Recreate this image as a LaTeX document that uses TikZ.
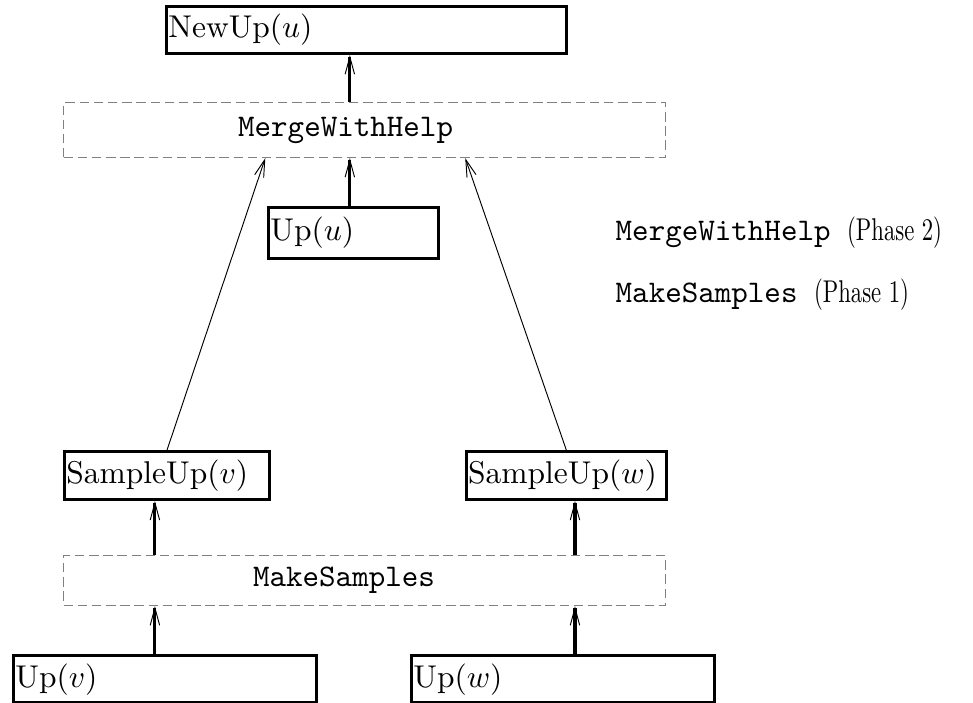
\documentclass[tikz,border=0pt]{standalone}
\usetikzlibrary{arrows.meta,calc,positioning}
\newcommand{\phasenote}[1]{\scalebox{0.72}[1]{(Phase~#1)}}
\begin{document}
\begin{tikzpicture}[x=1pt,y=-1pt,
	box/.style={draw,line width=1pt,anchor=north west,inner xsep=0.6pt,inner ysep=0pt,align=left},
	phase/.style={draw=gray,dash pattern=on 3pt off 1.5pt,line width=0.4pt,anchor=north west,inner sep=0pt},
	up/.style={line width=1pt,-{Straight Barb[length=5.5pt,width=3pt,line width=0.3pt]}},
	help/.style={line width=0.3pt,-{Straight Barb[length=5.5pt,width=3pt]}}]
	\useasboundingbox (0,0) rectangle (309,223.2);
	% boxes
	\node[box,text width=125.8pt,minimum height=14.9pt] (newup) at (52.4,1.6) {NewUp$(u)$};
	\node[phase,minimum width=191.1pt,minimum height=17.4pt,label={[xshift=-6pt]center:\texttt{MergeWithHelp}}] (merge) at (20,32.4) {};
	\node[box,text width=52.8pt,minimum height=16.2pt] (upu) at (84.8,65.4) {Up$(u)$};
	\node[box,text width=63.9pt,minimum height=15.2pt] (sampv) at (20,142.9) {SampleUp$(v)$};
	\node[box,text width=62.3pt,minimum height=15.2pt] (sampw) at (147.6,142.9) {SampleUp$(w)$};
	\node[phase,minimum width=191.1pt,minimum height=15.9pt,label={[xshift=-6.5pt]center:\texttt{MakeSamples}}] (make) at (20,176.2) {};
	\node[box,text width=95pt,minimum height=15pt] (upv) at (3.8,207.7) {Up$(v)$};
	\node[box,text width=95pt,minimum height=15pt] (upw) at (130.2,207.7) {Up$(w)$};
	% phases
	\node[anchor=west] (phasetwo) at (192,74) {\texttt{MergeWithHelp\ }\phasenote{2}};
	\node[anchor=west] (phaseone) at (192,93.7) {\texttt{MakeSamples\ }\phasenote{1}};
	% columns
	\coordinate (colu) at (111.1,0);
	\coordinate (colv) at (49.2,0);
	\coordinate (colw) at (182.6,0);
	\draw[up] (merge.north -| colu) -- (newup.south -| colu);
	\draw[up] (upu.north -| colu) -- (merge.south -| colu);
	\draw[help] (sampv.north) -- ($(merge.south)+(-31.5,0)$);
	\draw[help] (sampw.north) -- ($(merge.south)+(32,0)$);
	\draw[up] (upv.north -| colv) -- (make.south -| colv);
	\draw[up] (make.north -| colv) -- (sampv.south -| colv);
	\draw[up] (upw.north -| colw) -- (make.south -| colw);
	\draw[up] (make.north -| colw) -- (sampw.south -| colw);
\end{tikzpicture}
\end{document}
